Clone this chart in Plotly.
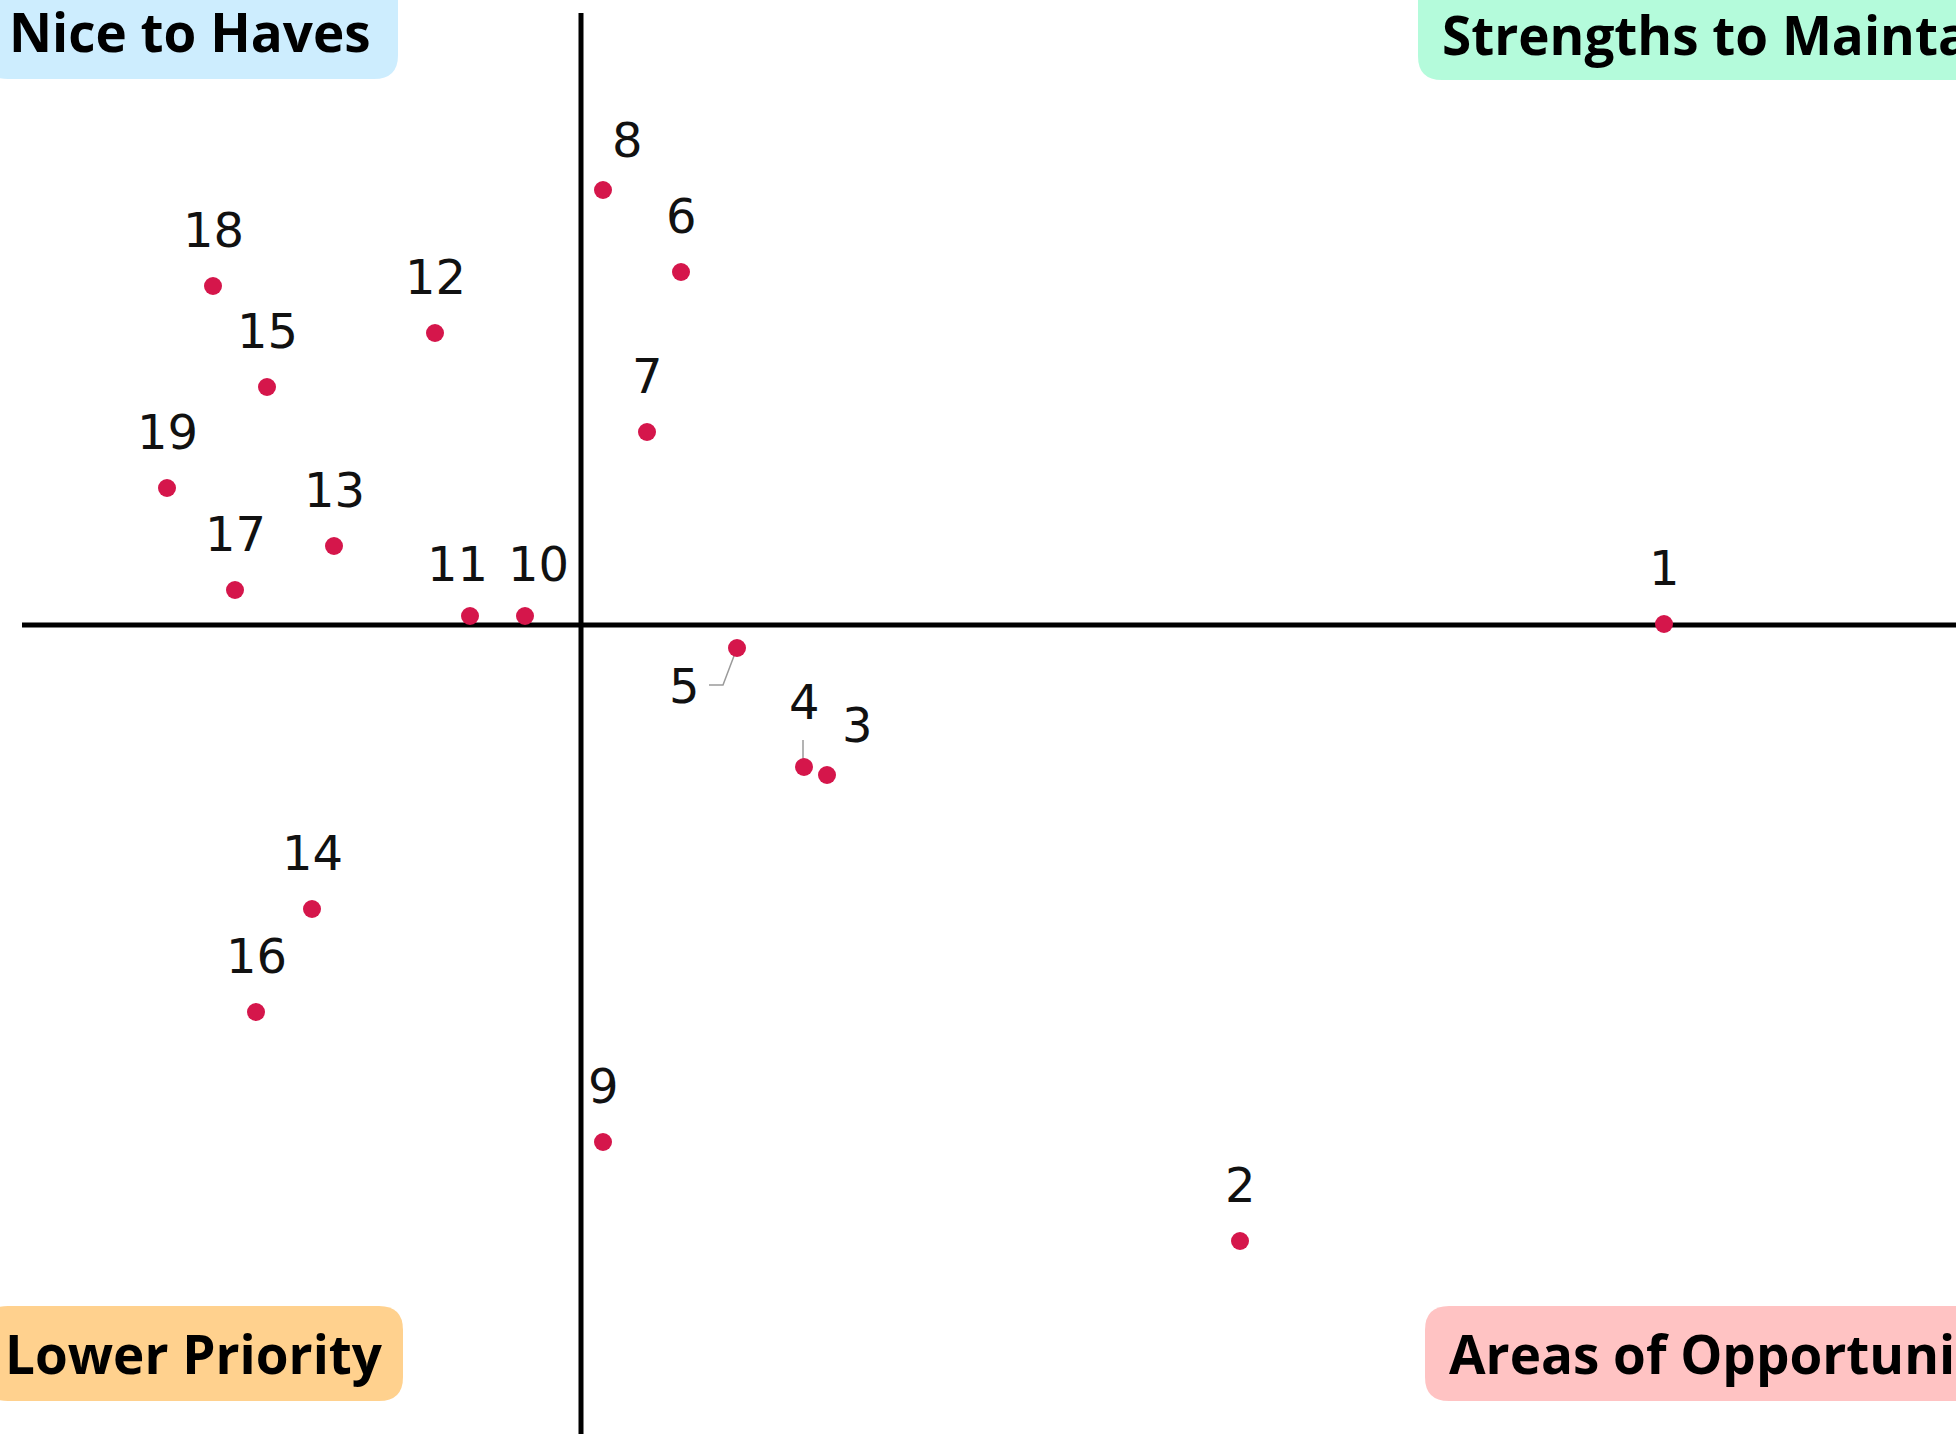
import plotly.graph_objects as go

# ---- data ----
ids = ["1", "2", "3", "4", "5", "6", "7", "8", "9", "10",
       "11", "12", "13", "14", "15", "16", "17", "18", "19"]
x_vals = [10.83, 6.59, 2.46, 2.23, 1.56, 1.00, 0.66, 0.22, 0.22, -0.56,
          -1.11, -1.46, -2.47, -2.69, -3.14, -3.25, -3.46, -3.68, -4.14]
y_vals = [0.01, -6.16, -1.50, -1.42, -0.23, 3.53, 1.93, 4.35, -5.17, 0.09,
          0.09, 2.92, 0.79, -2.84, 2.38, -3.87, 0.35, 3.39, 1.37]

quadrant_names = ["Nice to Haves", "Strengths to Maintain",
                  "Lower Priority", "Areas of Opportunity"]

# ---- styling ----
W, H = 1956, 1434
POINT_COLOR = "#D5164B"
LABEL_FONT = dict(family="DejaVu Sans", size=48, color="#111111")
QUAD_FONT = dict(family="Open Sans", size=53, color="#000000")

# pixel offsets for labels (xshift, yshift)
label_offsets = {"8": (24, 50), "10": (13, 52), "11": (-13, 52),
                 "5": (-53, -38), "4": (0, 65), "3": (30, 50)}
DEFAULT_OFFSET = (0, 56)

fig = go.Figure()
fig.add_trace(go.Scatter(
    x=x_vals, y=y_vals, mode="markers",
    marker=dict(size=18, color=POINT_COLOR, line=dict(width=0)),
    hoverinfo="text", text=ids, showlegend=False,
))

for lab, xv, yv in zip(ids, x_vals, y_vals):
    dx, dy = label_offsets.get(lab, DEFAULT_OFFSET)
    fig.add_annotation(x=xv, y=yv, text=lab, showarrow=False,
                       xshift=dx, yshift=dy, font=LABEL_FONT,
                       xanchor="center", yanchor="middle")

shapes = []
# axis cross lines
shapes.append(dict(type="line", xref="x", yref="paper", x0=0, x1=0,
                   y0=0, y1=1 - 13 / H, line=dict(color="black", width=5),
                   layer="below"))
shapes.append(dict(type="line", xref="paper", yref="y", x0=22 / W, x1=1,
                   y0=0, y1=0, line=dict(color="black", width=5),
                   layer="below"))

# leader lines for labels 5 and 4 (pixel offsets from the point)
lead_col = dict(color="#9A9A9A", width=1.5)
i5 = ids.index("5")
shapes.append(dict(type="path", xref="x", yref="y",
                   xsizemode="pixel", ysizemode="pixel",
                   xanchor=x_vals[i5], yanchor=y_vals[i5],
                   path="M 0 0 L -14 -37 L -28 -37", line=lead_col,
                   layer="below"))
i4 = ids.index("4")
shapes.append(dict(type="line", xref="x", yref="y",
                   xsizemode="pixel", ysizemode="pixel",
                   xanchor=x_vals[i4], yanchor=y_vals[i4],
                   x0=-1, x1=-1, y0=2, y1=27, line=lead_col, layer="below"))


def rounded_box(x0, y0, x1, y1, r):
    # pixel coords (top-left origin) -> path relative to paper top-left, y up
    a, b = x0, -y0
    c, d = x1, -y1
    return (f"M {a+r} {b} L {c-r} {b} Q {c} {b} {c} {b-r} L {c} {d+r} "
            f"Q {c} {d} {c-r} {d} L {a+r} {d} Q {a} {d} {a} {d+r} "
            f"L {a} {b-r} Q {a} {b} {a+r} {b} Z")


boxes = [
    ((-16, -40, 398, 79), "#CDEDFE"),
    ((1418, -40, 2200, 80), "#B4FBDB"),
    ((-16, 1306, 403, 1401), "#FFD18E"),
    ((1425, 1306, 2200, 1401), "#FFC3C3"),
]
for (bx0, by0, bx1, by1), col in boxes:
    shapes.append(dict(type="path", xref="paper", yref="paper",
                       xsizemode="pixel", ysizemode="pixel",
                       xanchor=0, yanchor=1,
                       path=rounded_box(bx0, by0, bx1, by1, 24),
                       fillcolor=col, line=dict(width=0), layer="below"))

quad_pos = [(7, 32), (1440, 34), (3, 1353), (1447, 1353)]
for name, (px, py) in zip(quadrant_names, quad_pos):
    fig.add_annotation(xref="paper", yref="paper", x=px / W, y=1 - py / H,
                       text=f"<b>{name}</b>", showarrow=False,
                       xanchor="left", yanchor="middle", font=QUAD_FONT)

fig.update_layout(
    width=W, height=H,
    margin=dict(l=0, r=0, t=0, b=0),
    paper_bgcolor="white", plot_bgcolor="white",
    shapes=shapes,
    xaxis=dict(range=[-5.81, 13.75], visible=False, fixedrange=True),
    yaxis=dict(range=[-8.09, 6.25], visible=False, fixedrange=True),
    showlegend=False,
)

fig.write_html("out.html", config={"displayModeBar": False},
               post_script="document.body.style.margin='0';")
